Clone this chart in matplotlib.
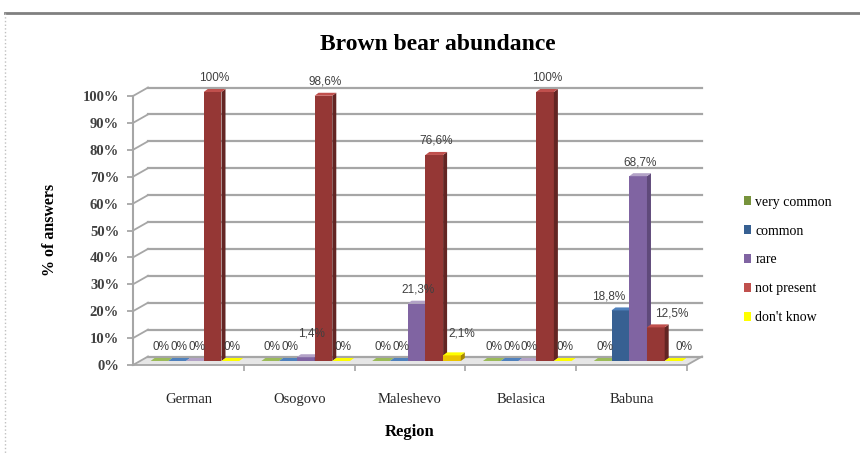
import matplotlib
matplotlib.use("Agg")
import matplotlib.pyplot as plt
from matplotlib.patches import Rectangle, Polygon, Patch

regions = ["German", "Osogovo", "Maleshevo", "Belasica", "Babuna"]
answers = ["very common", "common", "rare", "not present", "don't know"]
very_common = [0, 0, 0, 0, 0]
common = [0, 0, 0, 0, 18.8]
rare = [0, 1.4, 21.3, 0, 68.7]
not_present = [100, 98.6, 76.6, 100, 12.5]
dont_know = [0, 0, 2.1, 0, 0]
series = [very_common, common, rare, not_present, dont_know]

# front / side / top colours for the fake 3d look
front = ["#77933C", "#376092", "#8064A2", "#953735", "#EBC400"]
side = ["#4F6228", "#254061", "#5F497A", "#632523", "#A88A00"]
top = ["#9BBB59", "#4F81BD", "#B3A2C7", "#C0504D", "#FFFF00"]
legend_col = ["#77933C", "#376092", "#8064A2", "#C0504D", "#FFFF00"]

W, H = 860, 454
fig = plt.figure(figsize=(W / 100, H / 100), dpi=100)
fig.patch.set_facecolor("white")

ax_l, ax_r, ax_b, ax_t = 133, 687, 365, 96
ax = fig.add_axes([ax_l / W, 1 - ax_b / H, (ax_r - ax_l) / W, (ax_b - ax_t) / H])
ax.set_xlim(-0.5, 4.5)
ax.set_ylim(0, 100)
ax.patch.set_alpha(0)

# pixel -> data conversion
px = 5 / (ax_r - ax_l)
py = 100 / (ax_b - ax_t)

# depth offsets (pixels)
wall_dx, wall_dy = 15 * px, 8.5 * py
bf_dx, bf_dy = 6.5 * px, 4 * py
bb_dx, bb_dy = 10.5 * px, 7 * py

grid_c = "#A6A6A6"
x0, x1 = -0.5, 4.5

# floor
ax.add_patch(Polygon([(x0, 0), (x1, 0), (x1 + wall_dx, wall_dy), (x0 + wall_dx, wall_dy)],
                     closed=True, facecolor="#E6E6E6", edgecolor="none", clip_on=False, zorder=0))
ax.plot([x0, x1, x1 + wall_dx], [0, 0, wall_dy], color=grid_c, lw=1.3, clip_on=False, zorder=1)

# back wall grid + side wall slants
for v in range(0, 101, 10):
    ax.plot([x0 + wall_dx, x1 + wall_dx], [v + wall_dy, v + wall_dy], color=grid_c, lw=1.6,
            clip_on=False, zorder=1)
    ax.plot([x0, x0 + wall_dx], [v, v + wall_dy], color=grid_c, lw=1.3, clip_on=False, zorder=1)

group_w = 0.8
bw = group_w / len(series)


def fmt(v):
    if v == int(v):
        return f"{int(v)}%"
    return f"{v:.1f}".replace(".", ",") + "%"


# label nudges (pixels) where excel moved labels to avoid overlaps
nudge = {(1, 2): (4, 10), (2, 4): (8, 8), (4, 1): (-14, 0), (4, 3): (14, 0), (4, 4): (8, 0)}

for gi in range(len(regions)):
    for si, vals in enumerate(series):
        h = vals[gi]
        xa = gi - group_w / 2 + si * bw
        xb = xa + bw
        z = 3 + gi * 10 + si
        # front face
        if h > 0:
            ax.add_patch(Rectangle((xa + bf_dx, bf_dy), bw, h, facecolor=front[si],
                                   edgecolor="none", clip_on=False, zorder=z))
            ax.add_patch(Polygon([(xb + bf_dx, bf_dy), (xb + bf_dx, h + bf_dy),
                                  (xb + bb_dx, h + bb_dy), (xb + bb_dx, bb_dy)],
                                 closed=True, facecolor=side[si], edgecolor="none",
                                 clip_on=False, zorder=z))
        ax.add_patch(Polygon([(xa + bf_dx, h + bf_dy), (xb + bf_dx, h + bf_dy),
                              (xb + bb_dx, h + bb_dy), (xa + bb_dx, h + bb_dy)],
                             closed=True, facecolor=top[si], edgecolor="none",
                             clip_on=False, zorder=z))
        nx, ny = nudge.get((gi, si), (0, 0))
        ax.text((xa + xb) / 2 + bf_dx + (2 + nx) * px, h + bf_dy + (14 + ny) * py, fmt(h),
                ha="center", va="center", fontsize=8.5, family="Liberation Sans",
                color="#404040", zorder=100)

# axes styling
for s in ["top", "right", "bottom"]:
    ax.spines[s].set_visible(False)
ax.spines["left"].set_color(grid_c)
ax.spines["left"].set_linewidth(1.5)
ax.set_yticks(range(0, 101, 10))
ax.set_yticklabels([f"{v}%" for v in range(0, 101, 10)], family="Liberation Serif",
                   fontsize=10.5, color="#404040", fontweight="bold")
ax.tick_params(axis="y", length=4, color=grid_c, width=1.3, pad=6)
ax.set_xticks(range(len(regions)))
ax.set_xticklabels(regions, family="Liberation Serif", fontsize=10.5, color="#262626")
ax.tick_params(axis="x", which="major", length=0, pad=20)
ax.set_xticks([0.5 + i for i in range(len(regions))], minor=True)
ax.tick_params(axis="x", which="minor", length=4, color=grid_c, width=1.2)

fig.text(438 / W, 1 - 45 / H, "Brown bear abundance", ha="center", va="center",
         family="Liberation Serif", fontsize=17, fontweight="bold")
fig.text(50 / W, 1 - 230 / H, "% of answers", ha="center", va="center", rotation=90,
         family="Liberation Serif", fontsize=11.5, fontweight="bold")
fig.text(410 / W, 1 - 432 / H, "Region", ha="center", va="center",
         family="Liberation Serif", fontsize=12, fontweight="bold")

handles = [Patch(facecolor=c, edgecolor="none") for c in legend_col]
fig.legend(handles, answers, loc="upper left", bbox_to_anchor=(738 / W, 1 - 190 / H),
           frameon=False, prop={"family": "Liberation Serif", "size": 10},
           handlelength=0.55, handleheight=0.55, handletextpad=0.3, labelspacing=1.15,
           borderaxespad=0)

# chart-area border remnants
fig.add_artist(plt.Line2D([5 / W, 1], [1 - 13 / H, 1 - 13 / H], color="#808080", lw=2))
fig.add_artist(plt.Line2D([5 / W, 5 / W], [1 - 13 / H, 0], color="#C0C0C0", lw=1, ls=":"))

fig.savefig("out.png", dpi=100)
